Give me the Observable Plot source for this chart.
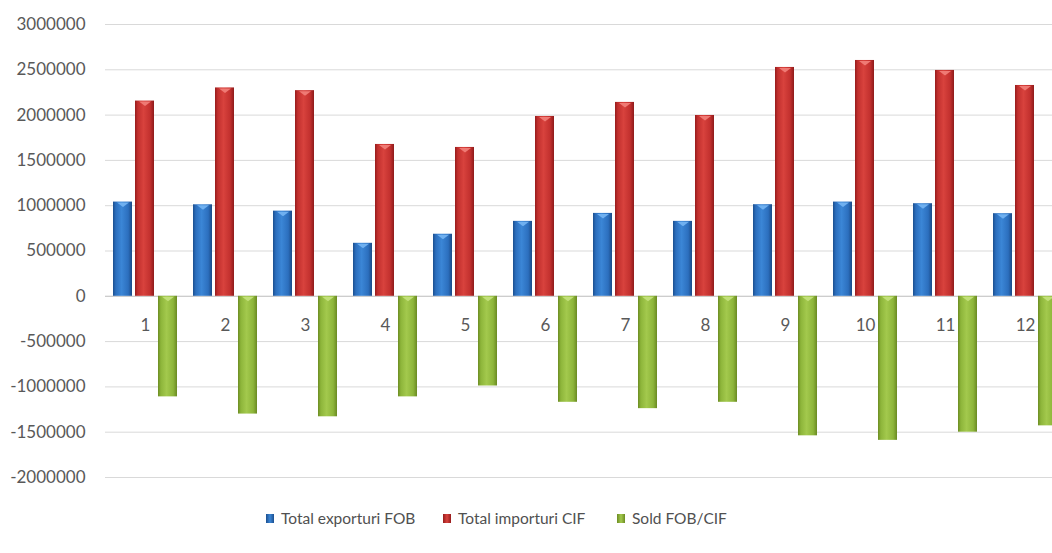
<!DOCTYPE html>
<html>
<head>
<meta charset="utf-8">
<script src="https://cdn.jsdelivr.net/npm/d3@7"></script>
<script src="https://cdn.jsdelivr.net/npm/@observablehq/plot@0.6"></script>
<style>
  html, body { margin: 0; padding: 0; background: #fff; overflow: hidden; }
  #wrap { width: 1052px; height: 553px; overflow: hidden; position: relative; }
  #chart svg { max-width: none !important; display: block; }
  #legend { position: absolute; left: 0; top: 500px; width: 1052px; height: 53px; font-family: Lato, "Open Sans", sans-serif; font-size: 15.5px; color: #505050; }
  .item { position: absolute; top: 9px; display: flex; align-items: center; white-space: nowrap; }
  .sw { width: 8px; height: 9px; margin-right: 7px; }
</style>
</head>
<body>
<div id="wrap"><div id="chart"></div><div id="legend"></div></div>
<script>
const months = [1, 2, 3, 4, 5, 6, 7, 8, 9, 10, 11, 12];
const exportsFOB = [1040000, 1010000, 940000, 585000, 685000, 827000, 915000, 827000, 1011000, 1040000, 1022000, 912000];
const importsCIF = [2155000, 2300000, 2270000, 1676000, 1643000, 1985000, 2140000, 1996000, 2526000, 2603000, 2493000, 2327000];
const soldFOBCIF = [-1110000, -1300000, -1330000, -1110000, -990000, -1170000, -1240000, -1170000, -1540000, -1590000, -1500000, -1430000];
const seriesNames = ["Total exporturi FOB", "Total importuri CIF", "Sold FOB/CIF"];
const yTicks = [-2000000, -1500000, -1000000, -500000, 0, 500000, 1000000, 1500000, 2000000, 2500000, 3000000];

const data = months.map((m, i) => ({month: m, exp: exportsFOB[i], imp: importsCIF[i], sold: soldFOBCIF[i]}));

const tri = { draw(ctx) { ctx.moveTo(-6, -2); ctx.lineTo(6, -2); ctx.lineTo(0, 2.5); ctx.closePath(); } };

const svg = Plot.plot({
  width: 1065,
  height: 500,
  marginLeft: 105,
  marginRight: 0,
  marginTop: 24,
  marginBottom: 23,
  style: { fontFamily: "Lato, 'Open Sans', sans-serif", background: "#fff", maxWidth: "none" },
  x: { type: "band", domain: months, padding: 0, axis: null },
  y: { domain: [-2000000, 3000000], axis: null },
  marks: [
    Plot.ruleY(yTicks, { stroke: "#d9d9d9", strokeWidth: 1 }),
    Plot.ruleY([0], { stroke: "#c8c8c8", strokeWidth: 1 }),
    Plot.axisY({ ticks: yTicks, tickSize: 0, tickPadding: 20, fontSize: 17, fill: "#595959", tickFormat: d => String(d) }),
    Plot.barY(data, { x: "month", y: "exp", fill: "url(#gBlue)", insetLeft: 8, insetRight: 53 }),
    Plot.barY(data, { x: "month", y: "imp", fill: "url(#gRed)", insetLeft: 30, insetRight: 31 }),
    Plot.barY(data, { x: "month", y: "sold", fill: "url(#gGreen)", insetLeft: 53, insetRight: 8 }),
    Plot.dot(data, { x: "month", y: "exp", symbol: tri, r: 4, fill: "#6fb0f0", stroke: "none", dx: -22.5, dy: 2.5 }),
    Plot.dot(data, { x: "month", y: "imp", symbol: tri, r: 4, fill: "#ef7a74", stroke: "none", dx: -0.5, dy: 2.5 }),
    Plot.dot(data, { x: "month", y: () => 0, symbol: tri, r: 4, fill: "#c2e07a", stroke: "none", dx: 22.5, dy: 2.5 }),
    Plot.text(data, { x: "month", y: () => 0, text: d => String(d.month), dy: 29, fontSize: 17, fill: "#595959" })
  ]
});

const defs = d3.select(svg).insert("defs", ":first-child");
function grad(id, stops) {
  const g = defs.append("linearGradient").attr("id", id).attr("x1", 0).attr("x2", 1).attr("y1", 0).attr("y2", 0);
  stops.forEach(([o, c]) => g.append("stop").attr("offset", o).attr("stop-color", c));
}
grad("gBlue", [[0, "#1b4f8f"], [0.15, "#2c6fbe"], [0.45, "#3b86d6"], [0.8, "#2c6fbe"], [1, "#1a4a86"]]);
grad("gRed", [[0, "#961c1c"], [0.15, "#c2302e"], [0.45, "#d8423d"], [0.8, "#c2302e"], [1, "#8e1b1b"]]);
grad("gGreen", [[0, "#6c8c22"], [0.15, "#8db53a"], [0.45, "#a3c94d"], [0.8, "#8db53a"], [1, "#6a8a22"]]);

svg.style.maxWidth = "none";
document.getElementById("chart").appendChild(svg);

const legend = document.getElementById("legend");
const swatches = ["linear-gradient(90deg,#1b4f8f,#3b86d6,#1b4f8f)", "linear-gradient(90deg,#961c1c,#d8423d,#961c1c)", "linear-gradient(90deg,#6c8c22,#a3c94d,#6c8c22)"];
const lefts = [266, 443, 617];
seriesNames.forEach((name, i) => {
  const it = document.createElement("div");
  it.className = "item";
  it.style.left = lefts[i] + "px";
  const sw = document.createElement("span");
  sw.className = "sw";
  sw.style.background = swatches[i];
  const tx = document.createElement("span");
  tx.textContent = name;
  it.appendChild(sw);
  it.appendChild(tx);
  legend.appendChild(it);
});
</script>
</body>
</html>
